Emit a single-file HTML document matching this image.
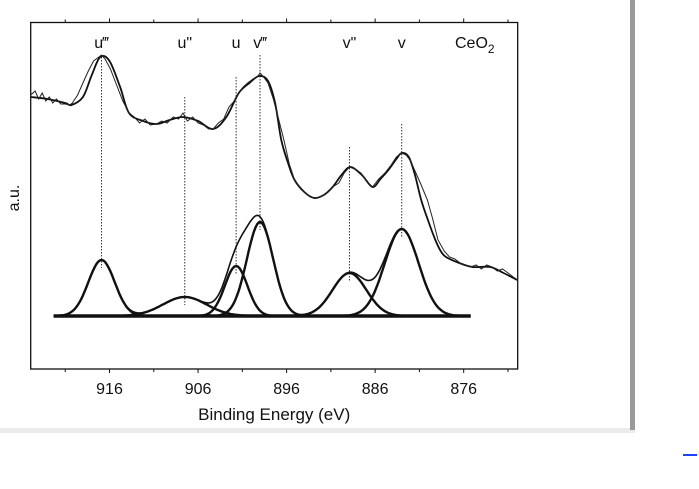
<!DOCTYPE html>
<html><head><meta charset="utf-8"><style>
html,body{margin:0;padding:0;background:#fff;width:699px;height:489px;overflow:hidden}
svg{display:block}
text{font-family:"Liberation Sans",Arial,sans-serif;fill:#111}
</style></head><body>
<svg id="chart" width="699" height="489">
<rect x="0" y="428" width="635" height="5" fill="#ececec"/>
<rect x="630" y="0" width="5" height="430" fill="#9a9a9a"/>
<rect x="683" y="454" width="14" height="2" fill="#2040ff"/>
<g id="plot"></g>
</svg>
<script>
const ticks=[916,906,896,886,876];
const minorTicks=[921,911,901,891,881,871];
const rawE=[924.9,924.4,924,923.6,923.2,922.8,922.4,922,921.5,921,920.5,920.2,919.6,919,918.4,917.8,917.2,916.9,916.5,915.9,915.2,914.5,913.8,913.2,912.6,912,911.4,910.7,910.1,909.5,908.8,908.2,907.7,907.2,906.6,906,905.4,904.8,904.3,903.7,903.1,902.5,901.9,901.4,900.9,900.4,899.8,899.3,899,898.6,898.1,897.5,896.9,896.3,895.7,895.1,894.4,893.6,892.9,892.2,891.5,890.8,890.1,889.5,888.9,888.3,887.6,887,886.3,885.6,884.9,884.2,883.6,883,882.5,882,881.4,880.8,880.1,879.5,878.9,878.2,877.6,877,876.4,875.8,875.2,874.6,874,873.4,872.8,872.2,871.6,871,870.4,869.9];
const rawI=[274,278,270,276,268,272,266,270,265,265,264,266,274,286,298,308,312,314,310,300,284,268,256,252,246,250,244,245,248,246,252,250,256,248,252,246,244,240,240,246,250,262,268,276,282,286,290,292,296,292,286,270,250,229,205,189,180,174,171,172,176,182,186,196,202,200,196,188,182,190,196,204,212,216,214,208,196,184,169,150,129,118,112,110,106,104,102,104,100,104,102,98,100,96,92,89];
const fitE=[924.9,923,921,920.3,919,918,917.05,916,914.8,913.8,912.2,910.7,909.2,907.7,906,904.3,902.8,901.4,900.2,899.1,898.1,897.3,896.6,895.8,895.1,894,892.9,891.8,890.8,889.8,888.8,887.5,886.3,885.4,884.5,883.6,883,882.2,881.5,880.8,880,879.2,878.6,878,876.5,875,873,871.5,869.95];
const fitI=[272,270,266,264,272,294,312,308,282,256,248,245,249,252,248,240,252,276,286,293,288,266,229,205,189,177,171,174,182,194,202,194,182,190,199,210,216,212,194,169,148,129,118,112,106,102,102,96,89];
const peakCenter=[916.9,907.5,901.7,899.0,888.9,883.0];
const peakHeight=[56,19,50,94,43,87];
const peakFwhm=[3.5,5.8,3.0,3.5,4.5,4.5];
const peakLabels=["u\u2034","u\"","u","v\u2034","v\"","v"];
const dotTop=[312,272,292,314,222,245];
const baseI=53;
const baseRange=[922.3,875.2];

const NS='http://www.w3.org/2000/svg';
const L=30.7,R=517.7,T=22.5,B=369;
const xDom=[924.9,869.9], yDom=[0,346.5];
const X=e=>L+(e-xDom[0])/(xDom[1]-xDom[0])*(R-L);
const Y=v=>B-(v-yDom[0])/(yDom[1]-yDom[0])*(B-T);
const g=document.getElementById('plot');
function mk(tag,attrs,parent){const el=document.createElementNS(NS,tag);for(const k in attrs)el.setAttribute(k,attrs[k]);(parent||g).appendChild(el);return el;}
function smooth(pts){let d='M'+pts[0][0].toFixed(2)+','+pts[0][1].toFixed(2);
 for(let i=0;i<pts.length-1;i++){const p0=pts[Math.max(0,i-1)],p1=pts[i],p2=pts[i+1],p3=pts[Math.min(pts.length-1,i+2)];
 const c1=[p1[0]+(p2[0]-p0[0])/6,p1[1]+(p2[1]-p0[1])/6],c2=[p2[0]-(p3[0]-p1[0])/6,p2[1]-(p3[1]-p1[1])/6];
 d+=' C'+c1.map(v=>v.toFixed(2))+' '+c2.map(v=>v.toFixed(2))+' '+p2[0].toFixed(2)+','+p2[1].toFixed(2);}return d;}

let el=mk('rect',{x:L,y:T,width:R-L,height:B-T,fill:'none',stroke:'#111','stroke-width':1.3});


ticks.forEach(t=>{
 let a=mk('line',{x1:X(t),x2:X(t),y1:B,y2:B+4,stroke:'#111','stroke-width':1});
 
 
 let b=mk('line',{x1:X(t),x2:X(t),y1:T,y2:T-4,stroke:'#111','stroke-width':1});
 
 
 let tx=mk('text',{x:X(t),y:B+25,'text-anchor':'middle','font-size':16});tx.textContent=t;
 
 
});
minorTicks.forEach(t=>{
 let a=mk('line',{x1:X(t),x2:X(t),y1:B,y2:B+3,stroke:'#111','stroke-width':1});
 
 
 let b=mk('line',{x1:X(t),x2:X(t),y1:T,y2:T-3,stroke:'#111','stroke-width':1});
 
 
});
el=mk('text',{x:(L+R)/2,y:420,'text-anchor':'middle','font-size':17});el.textContent='Binding Energy (eV)';


el=mk('text',{x:0,y:0,'text-anchor':'middle','font-size':16,transform:'translate(19,198) rotate(-90)'});el.textContent='a.u.';


el=mk('text',{x:455,y:48,'font-size':16});el.innerHTML='CeO<tspan font-size="12" dy="5">2</tspan>';



const gauss=(e,i)=>peakHeight[i]*Math.exp(-4*Math.LN2*Math.pow((e-peakCenter[i])/peakFwhm[i],2));
peakCenter.forEach((c,i)=>{
 let d=mk('line',{x1:X(c),x2:X(c),y1:Y(dotTop[i]),y2:Y(baseI+peakHeight[i]-8),stroke:'#333','stroke-width':1,'stroke-dasharray':'1.5,1.5'});
 
 
 let t=mk('text',{x:X(c),y:48,'text-anchor':'middle','font-size':16});
 t.textContent=peakLabels[i];
 
 
});
peakCenter.forEach((c,i)=>{
 const pts=[];
 for(let e=baseRange[0];e>=baseRange[1];e-=0.2)pts.push([X(e),Y(baseI+gauss(e,i))]);
 const d='M'+pts.map(q=>q[0].toFixed(1)+','+q[1].toFixed(1)).join(' L');
 let p=mk('path',{d:d,fill:'none',stroke:'#111','stroke-width':2.4});
 
 
});
{const pts=[];for(let e=baseRange[0];e>=baseRange[1];e-=0.2){let s=0;peakCenter.forEach((c,i)=>s+=gauss(e,i));pts.push([X(e),Y(baseI+s)]);}
 let p=mk('path',{d:'M'+pts.map(q=>q[0].toFixed(1)+','+q[1].toFixed(1)).join(' L'),fill:'none',stroke:'#111','stroke-width':1.6});
 
 }
el=mk('line',{x1:X(baseRange[0]),x2:X(baseRange[1]),y1:Y(baseI),y2:Y(baseI),stroke:'#111','stroke-width':3.5});


el=mk('path',{d:smooth(fitE.map((e,i)=>[X(e),Y(fitI[i])])),fill:'none',stroke:'#111','stroke-width':1.8});


el=mk('path',{d:'M'+rawE.map((e,i)=>X(e).toFixed(1)+','+Y(rawI[i]).toFixed(1)).join(' L'),fill:'none',stroke:'#222','stroke-width':1});


</script>
</body></html>
